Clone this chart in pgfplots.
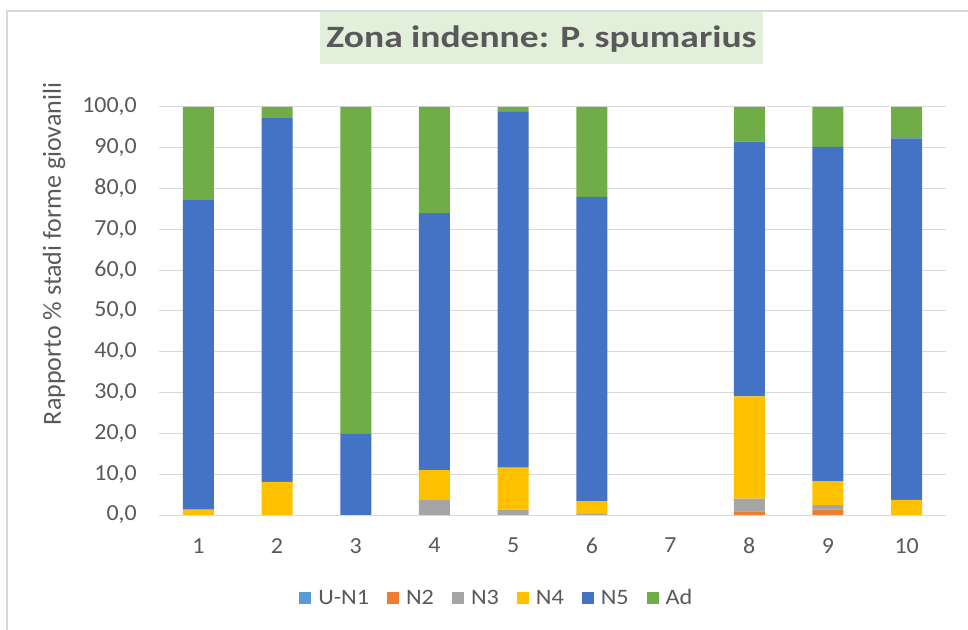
\documentclass[border=0pt]{standalone}
\usepackage{pgfplots}
\pgfplotsset{compat=1.18}
\usepackage{pgfplotstable}
\usepackage{fontspec}
\setmainfont{Carlito}
\newfontfamily\titlefont[FakeStretch=1.21]{Carlito}
\newfontfamily\tickfont[FakeStretch=1.04]{Carlito}
\newfontfamily\legfont[FakeStretch=1.1]{Carlito}
\definecolor{cUN}{HTML}{5B9BD5}
\definecolor{cN2}{HTML}{ED7D31}
\definecolor{cN3}{HTML}{A5A5A5}
\definecolor{cN4}{HTML}{FFC000}
\definecolor{cN5}{HTML}{4472C4}
\definecolor{cAd}{HTML}{70AD47}
\definecolor{txtgray}{HTML}{595959}
\definecolor{gridgray}{HTML}{D9D9D9}
\definecolor{titlebg}{HTML}{E2EFDA}
\pgfplotsset{sqleg/.style={legend image code/.code={\fill[##1] (0bp,-6bp) rectangle (12bp,6bp);}}}
\pgfplotstableread{
x UN N2 N3 N4 N5 Ad
1 0 0 0 1.3 75.9 22.8
2 0 0 0 8.1 89.2 2.7
3 0 0 0 0 20.0 80.0
4 0 0 3.7 7.3 63.0 26.0
5 0 0 1.3 10.3 87.2 1.2
6 0 0 0.4 3.0 74.6 22.0
7 0 0 0 0 0 0
8 0 0.9 3.1 25.1 62.4 8.5
9 0 1.3 1.15 5.85 81.9 9.8
10 0 0 0 3.7 88.6 7.7
}\data
\begin{document}
\begin{tikzpicture}
\useasboundingbox (0bp,0bp) rectangle (968bp,630bp);
\draw[gridgray, line width=1.5bp] (7bp,0bp) -- (7bp,619bp) -- (968bp,619bp);
\node[fill=titlebg, minimum width=443bp, minimum height=52bp, inner sep=0pt] at (541.5bp,592bp) {};
\node[text=txtgray, inner sep=0pt, font=\titlefont\bfseries\fontsize{31bp}{36bp}\selectfont] at (541.5bp,591bp) {Zona indenne: P. spumarius};
\begin{axis}[
  at={(159bp,115bp)}, anchor=south west, scale only axis,
  width=787bp, height=408bp,
  ybar stacked, bar width=31bp,
  xmin=0.5, xmax=10.5, ymin=0, ymax=100,
  xtick={1,...,10}, ytick={0,10,...,100},
  ymajorgrids, major grid style={gridgray, line width=1bp},
  axis line style={draw=none}, tick style={draw=none},
  /pgf/number format/assume math mode=true,
  yticklabel style={/pgf/number format/.cd, fixed, fixed zerofill, precision=1, use comma},
  ticklabel style={font=\tickfont\fontsize{23bp}{27bp}\selectfont, text=txtgray, inner sep=0pt},
  yticklabel shift=22bp, xticklabel shift=23bp,
  ylabel={Rapporto \% stadi forme giovanili},
  every axis y label/.style={at={(axis description cs:-0.1334,0.64)}, rotate=90, anchor=center, font=\fontsize{26bp}{30bp}\selectfont, text=txtgray},
  legend columns=6,
  legend style={at={(axis description cs:0.428,-0.2034)}, anchor=center, draw=none, fill=none,
    font=\legfont\fontsize{22bp}{26bp}\selectfont, text=txtgray,
    nodes={inner xsep=0pt},
    /tikz/every odd column/.append style={column sep=7bp},
    /tikz/every even column/.append style={column sep=18bp}},
  legend cell align=left,
]
\addplot[fill=cUN, draw=none, sqleg] table[x=x, y=UN] {\data};
\addplot[fill=cN2, draw=none, sqleg] table[x=x, y=N2] {\data};
\addplot[fill=cN3, draw=none, sqleg] table[x=x, y=N3] {\data};
\addplot[fill=cN4, draw=none, sqleg] table[x=x, y=N4] {\data};
\addplot[fill=cN5, draw=none, sqleg] table[x=x, y=N5] {\data};
\addplot[fill=cAd, draw=none, sqleg] table[x=x, y=Ad] {\data};
\legend{U-N1, N2, N3, N4, N5, Ad}
\end{axis}
\end{tikzpicture}
\end{document}
